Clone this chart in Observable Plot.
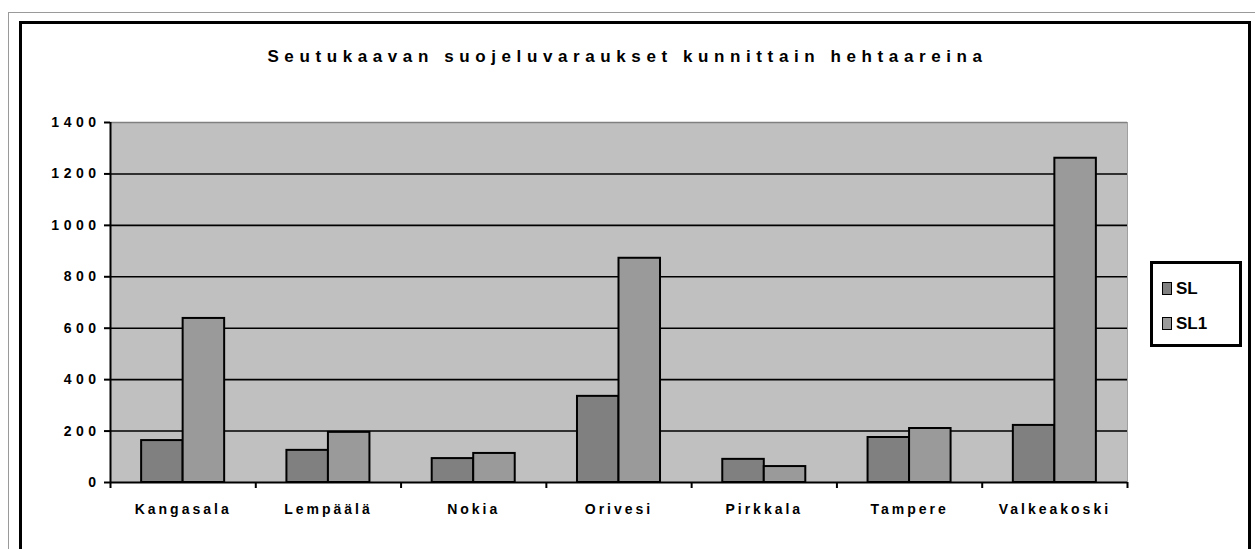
<!DOCTYPE html>
<html>
<head>
<meta charset="utf-8">
<script src="https://cdn.jsdelivr.net/npm/d3@7"></script>
<script src="https://cdn.jsdelivr.net/npm/@observablehq/plot@0.6"></script>
<style>
  html, body { margin: 0; padding: 0; background: #fff; }
  #wrap { position: relative; width: 1255px; height: 549px; overflow: hidden; background: #fff; font-family: "Liberation Sans", Arial, sans-serif; }
  #outer { position: absolute; left: 8px; top: 12px; width: 1300px; height: 600px; border: 1px solid #9a9a9a; }
  #inner { position: absolute; left: 19px; top: 21px; width: 1226px; height: 600px; border: 3px solid #000; }
  #title { position: absolute; left: 0; width: 1255px; top: 47px; text-align: center; font-weight: bold; font-size: 17px; letter-spacing: 5.6px; color: #000; }
  #chart { position: absolute; left: 0; top: 100px; }
  #legend { position: absolute; left: 1150px; top: 261px; width: 86px; height: 80px; border: 3px solid #000; background: #fff; }
  .li { position: absolute; left: 9px; font-weight: bold; font-size: 17px; line-height: 17px; }
  .sw { display: inline-block; width: 8px; height: 11px; border: 1.5px solid #000; margin-right: 4px; vertical-align: -1px; }
  g[aria-label="y-axis tick label"] text { letter-spacing: 4.5px; }
  g[aria-label="x-axis tick label"] text { letter-spacing: 3px; }
</style>
</head>
<body>
<div id="wrap">
  <div id="outer"></div>
  <div id="inner"></div>
  <div id="title"></div>
  <div id="chart"></div>
  <div id="legend"></div>
</div>
<script>
const title = "Seutukaavan suojeluvaraukset kunnittain hehtaareina";
const categories = ["Kangasala", "Lempäälä", "Nokia", "Orivesi", "Pirkkala", "Tampere", "Valkeakoski"];
const series = ["SL", "SL1"];
const slValues = [163, 125, 93, 335, 90, 175, 222];
const sl1Values = [638, 195, 113, 872, 62, 210, 1261];
const yTicks = [0, 200, 400, 600, 800, 1000, 1200, 1400];
const seriesColors = ["#808080", "#9a9a9a"];

document.getElementById("title").textContent = title;

const rows = [];
categories.forEach((cat, i) => {
  rows.push({cat, i, s: 0, series: series[0], value: slValues[i]});
  rows.push({cat, i, s: 1, series: series[1], value: sl1Values[i]});
});

// Excel-style clustered columns, gap width 150%
const gapWidth = 1.5;
const barW = 1 / (series.length + gapWidth);
const x1 = d => d.i + gapWidth * barW / 2 + d.s * barW;
const x2 = d => x1(d) + barW;

const chart = Plot.plot({
  width: 1255,
  height: 449,
  marginTop: 22,
  marginBottom: 67,
  marginLeft: 110,
  marginRight: 128,
  style: {background: "transparent", fontFamily: "Liberation Sans, Arial, sans-serif", fontSize: "14px", fontWeight: "bold", color: "#000"},
  x: {domain: [0, categories.length], axis: null},
  y: {domain: [0, 1400], axis: null},
  color: {domain: series, range: seriesColors},
  marks: [
    Plot.frame({fill: "#c0c0c0", stroke: null}),
    Plot.ruleY(yTicks.filter(v => v > 0 && v < 1400), {stroke: "#000", strokeWidth: 1.6}),
    Plot.ruleY([1400], {stroke: "#808080", strokeWidth: 1.5}),
    Plot.ruleX([categories.length], {stroke: "#a0a0a0", strokeWidth: 1}),
    Plot.rect(rows, {x1, x2, y1: d => 0, y2: "value", fill: "series", stroke: "#000", strokeWidth: 2}),
    Plot.ruleX([0], {stroke: "#000", strokeWidth: 2}),
    Plot.ruleY([0], {stroke: "#000", strokeWidth: 2}),
    Plot.axisY({ticks: yTicks, tickSize: 6, tickPadding: 4, label: null, tickFormat: d => String(d), stroke: "#000", strokeWidth: 2, fontSize: 14, fontWeight: "bold"}),
    Plot.axisX({ticks: d3.range(categories.length + 1), tickSize: 6, label: null, tickFormat: () => "", stroke: "#000", strokeWidth: 2}),
    Plot.axisX({ticks: categories.map((_, i) => i + 0.5), tickSize: 0, tickPadding: 22, label: null, tickFormat: d => categories[Math.floor(d)], fontSize: 14, fontWeight: "bold"})
  ]
});
document.getElementById("chart").appendChild(chart);

const legend = document.getElementById("legend");
series.forEach((s, k) => {
  const item = document.createElement("div");
  item.className = "li";
  item.style.top = (16 + k * 35) + "px";
  const sw = document.createElement("span");
  sw.className = "sw";
  sw.style.background = seriesColors[k];
  item.appendChild(sw);
  item.appendChild(document.createTextNode(s));
  legend.appendChild(item);
});
</script>
</body>
</html>
